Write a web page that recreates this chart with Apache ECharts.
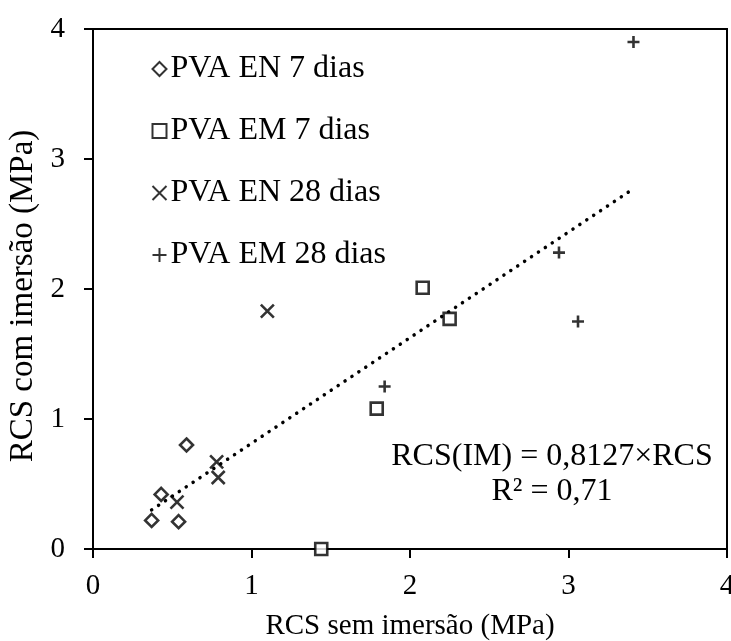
<!DOCTYPE html>
<html>
<head>
<meta charset="utf-8">
<script src="https://cdn.jsdelivr.net/npm/echarts@6/dist/echarts.min.js"></script>
<style>
  html, body { margin: 0; padding: 0; background: #fff; }
  #box { width: 731px; height: 641px; }
</style>
</head>
<body>
<div id="box"></div>
<script>
// valores (MPa)
const seriesNames = ['PVA EN 7 dias', 'PVA EM 7 dias', 'PVA EN 28 dias', 'PVA EM 28 dias'];
const en7 = [[0.37, 0.22], [0.43, 0.42], [0.54, 0.21], [0.59, 0.80]];
const em7 = [[1.44, 0.00], [1.79, 1.08], [2.08, 2.01], [2.25, 1.77]];
const en28 = [[0.53, 0.36], [0.78, 0.67], [0.79, 0.55], [1.10, 1.83]];
const em28 = [[1.84, 1.25], [2.94, 2.28], [3.06, 1.75], [3.41, 3.90]];
const slope = 0.8127;
const r2 = '0,71';
const axisTicks = [0, 1, 2, 3, 4];

const font = 'Liberation Serif';
const allX = [].concat(en7, em7, en28, em28).map(p => p[0]);
const xMin = Math.min(...allX), xMax = Math.max(...allX);
const trend = [[xMin, slope * xMin], [xMax, slope * xMax]];

const crossPath = 'path://M0,0L10,10M10,0L0,10';
const plusPath = 'path://M5,0L5,10M0,5L10,5';

let myecharts = echarts.init(document.getElementById('box'));
const hollow = {color: '#fff', borderColor: '#000', borderWidth: 2.6};
const strokeOnly = {color: 'none', borderColor: '#000', borderWidth: 2.6};

let option = {
  animation: false,
  textStyle: {fontFamily: font},
  grid: {
    left: 93, right: 4, top: 29, bottom: 92,
    containLabel: false, outerBoundsMode: 'none',
    show: true, borderColor: '#000', borderWidth: 2
  },
  legend: {
    orient: 'vertical',
    left: 145,
    top: 47,
    itemGap: 28,
    itemWidth: 14,
    itemHeight: 14,
    data: seriesNames,
    textStyle: {fontFamily: font, fontSize: 32, color: '#000', lineHeight: 34, padding: [0, 0, 0, -1]}
  },
  xAxis: {
    type: 'value', min: 0, max: axisTicks[axisTicks.length - 1], interval: 1,
    name: 'RCS sem imersão (MPa)', nameLocation: 'middle', nameGap: 63,
    nameTextStyle: {fontFamily: font, fontSize: 29, color: '#000'},
    axisLine: {lineStyle: {color: '#000', width: 2}},
    axisTick: {inside: false, length: 9, lineStyle: {color: '#000', width: 2}},
    axisLabel: {margin: 23, fontFamily: font, fontSize: 29, color: '#000'},
    splitLine: {show: false}
  },
  yAxis: {
    type: 'value', min: 0, max: axisTicks[axisTicks.length - 1], interval: 1,
    name: 'RCS com imersão (MPa)', nameLocation: 'middle', nameGap: 51,
    nameTextStyle: {fontFamily: font, fontSize: 33, color: '#000', padding: [0, 14, 0, 0]},
    axisLine: {lineStyle: {color: '#000', width: 2}},
    axisTick: {inside: false, length: 9, lineStyle: {color: '#000', width: 2}},
    axisLabel: {margin: 28, fontFamily: font, fontSize: 29, color: '#000'},
    splitLine: {show: false}
  },
  series: [
    {name: seriesNames[0], type: 'scatter', symbol: 'diamond', symbolSize: 13, itemStyle: hollow, data: en7, z: 3},
    {name: seriesNames[1], type: 'scatter', symbol: 'rect', symbolSize: 12, itemStyle: hollow, data: em7, z: 3},
    {name: seriesNames[2], type: 'scatter', symbol: crossPath, symbolSize: 13, itemStyle: strokeOnly, data: en28, z: 3},
    {name: seriesNames[3], type: 'scatter', symbol: plusPath, symbolSize: 12, itemStyle: strokeOnly, data: em28, z: 3},
    {
      type: 'line', data: trend, symbol: 'none', silent: true, z: 2,
      lineStyle: {color: '#000', width: 3.5, type: [0.1, 8.2], cap: 'round'}
    }
  ],
  graphic: [
    {
      type: 'text', x: 552, y: 457, silent: true,
      style: {text: 'RCS(IM) = 0,8127×RCS', font: '32px "Liberation Serif"', fill: '#000', align: 'center', verticalAlign: 'middle'}
    },
    {
      type: 'text', x: 552, y: 492, silent: true,
      style: {text: 'R² = ' + r2, font: '32px "Liberation Serif"', fill: '#000', align: 'center', verticalAlign: 'middle'}
    }
  ]
};
myecharts.setOption(option);
</script>
</body>
</html>
